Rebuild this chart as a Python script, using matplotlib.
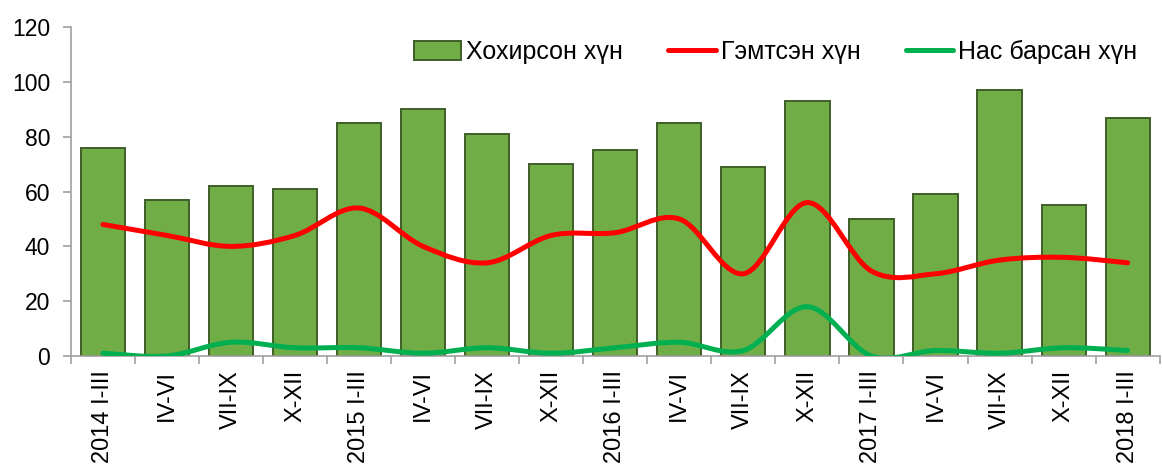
import matplotlib
matplotlib.use("Agg")
import matplotlib.pyplot as plt
import numpy as np
from matplotlib.path import Path
from matplotlib.patches import PathPatch
from matplotlib.lines import Line2D
from matplotlib.patches import Patch

plt.rcParams['font.family'] = ['Liberation Sans', 'DejaVu Sans']

quarters = ["2014 I-III", "IV-VI", "VII-IX", "X-XII",
            "2015 I-III", "IV-VI", "VII-IX", "X-XII",
            "2016 I-III", "IV-VI", "VII-IX", "X-XII",
            "2017 I-III", "IV-VI", "VII-IX", "X-XII",
            "2018 I-III"]
victims = [76, 57, 62, 61, 85, 90, 81, 70, 75, 85, 69, 93, 50, 59, 97, 55, 87]   # Хохирсон хүн
injured = [48, 44, 40, 44, 54, 40, 34, 44, 45, 50, 30, 56, 31, 30, 35, 36, 34]   # Гэмтсэн хүн
dead = [1, 0, 5, 3, 3, 1, 3, 1, 3, 5, 2, 18, 0, 2, 1, 3, 2]                      # Нас барсан хүн


def smooth_path(x, y):
    # excel-like smoothed line: cubic bezier segments through the points
    pts = np.column_stack([x, y]).astype(float)
    n = len(pts)
    verts = [pts[0]]
    codes = [Path.MOVETO]
    for i in range(n - 1):
        p0 = pts[i - 1] if i > 0 else pts[i]
        p1 = pts[i]
        p2 = pts[i + 1]
        p3 = pts[i + 2] if i + 2 < n else pts[i + 1]
        c1 = p1 + (p2 - p0) / 6.0
        c2 = p2 - (p3 - p1) / 6.0
        verts += [c1, c2, p2]
        codes += [Path.CURVE4] * 3
    return Path(verts, codes)


fig = plt.figure(figsize=(11.62, 4.69), dpi=100)
ax = fig.add_axes([0.061, 0.241, 0.937, 0.701])

x = np.arange(len(quarters))
ax.bar(x, victims, width=0.69, color="#70AD47", edgecolor="#3E5E27", linewidth=1.4, zorder=2)

ax.add_patch(PathPatch(smooth_path(x, injured), fill=False, edgecolor="#FF0000",
                       linewidth=3.6, capstyle="round", zorder=3))
ax.add_patch(PathPatch(smooth_path(x, dead), fill=False, edgecolor="#00B050",
                       linewidth=3.6, capstyle="round", zorder=3))

ax.set_xlim(-0.5, len(quarters) - 0.5)
ax.set_ylim(0, 120)
ax.set_yticks(range(0, 121, 20))
ax.set_xticks(x)
ax.set_xticklabels(quarters, rotation=90, fontsize=17)
ax.set_xticks(np.arange(-0.5, len(quarters), 1), minor=True)
ax.tick_params(axis="x", which="major", length=0, pad=10)
ax.tick_params(axis="x", which="minor", length=6, color="#A0A0A0", width=1.2)
ax.tick_params(axis="y", length=6, color="#A0A0A0", width=1.2, labelsize=16.5, pad=9)

for s in ["top", "right"]:
    ax.spines[s].set_visible(False)
for s in ["left", "bottom"]:
    ax.spines[s].set_color("#A0A0A0")
    ax.spines[s].set_linewidth(1.2)

handles = [Patch(facecolor="#70AD47", edgecolor="#3E5E27", linewidth=1.4),
           Line2D([], [], color="#FF0000", linewidth=3.6, solid_capstyle="round"),
           Line2D([], [], color="#00B050", linewidth=3.6, solid_capstyle="round")]
labels = ["Хохирсон хүн", "Гэмтсэн хүн", "Нас барсан хүн"]
ax.legend(handles, labels, ncol=3, frameon=False, fontsize=18,
          loc="center right", bbox_to_anchor=(1.0, 0.925),
          handlelength=1.9, handleheight=0.8, handletextpad=0.2, columnspacing=1.8)

fig.savefig("out.png", dpi=100)
